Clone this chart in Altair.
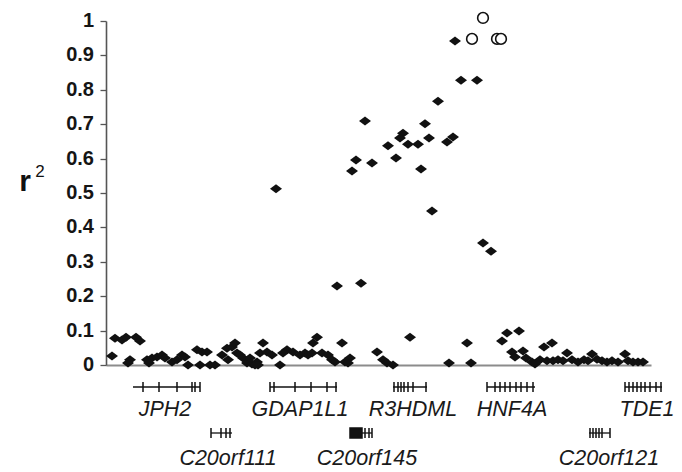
import altair as alt
import pandas as pd

# ---- data (position along region, arbitrary kb units; r^2 values) ----
filled_pos = [332, 259, 319, 297, 294, 323, 302, 312, 341, 347, 282, 250, 290, 266, 246, 315,
              170, 326, 231, 255, 349, 355, 371, 377, 385,
              6, 9, 16, 20, 30, 34, 24, 22, 41, 46, 43, 51, 56, 59, 66, 71, 76, 79, 82, 91, 96,
              101, 94, 104, 109, 116, 121, 126, 129, 122, 131, 134, 137, 141, 146, 151, 144, 149,
              152, 157, 154, 161, 166, 174, 181, 177, 187, 194, 199, 202, 206, 211, 207, 216, 222,
              226, 229, 236, 239, 244, 242, 271, 277, 281, 287, 304, 343, 361, 365, 396, 401, 413,
              406, 409, 417, 420, 426, 429, 434, 441, 447, 452, 438, 446,
              457, 461, 466, 472, 478, 482, 486, 491, 496, 501, 506, 512, 519, 522, 527, 532, 537]
filled_r2 = [0.767, 0.709, 0.701, 0.674, 0.660, 0.660, 0.642, 0.642, 0.648, 0.663, 0.637, 0.596,
             0.602, 0.587, 0.564, 0.570, 0.512, 0.448, 0.230, 0.238, 0.942, 0.828, 0.828, 0.355, 0.331,
             0.026, 0.078, 0.073, 0.081, 0.081, 0.070, 0.015, 0.006, 0.015, 0.020, 0.006, 0.023,
             0.029, 0.020, 0.009, 0.015, 0.029, 0.023, 0.0, 0.044, 0.038, 0.038, 0.0, 0.0, 0.0,
             0.029, 0.049, 0.052, 0.064, 0.015, 0.035, 0.029, 0.020, 0.006, 0.003, 0.009, 0.020,
             0.0, 0.0, 0.064, 0.035, 0.038, 0.029, 0.0, 0.044, 0.035, 0.038, 0.029, 0.035, 0.029,
             0.035, 0.081, 0.064, 0.035, 0.029, 0.015, 0.009, 0.064, 0.009, 0.020, 0.006, 0.038,
             0.015, 0.006, 0.0, 0.081, 0.006, 0.064, 0.006, 0.070, 0.093, 0.099, 0.038, 0.023,
             0.041, 0.020, 0.009, 0.003, 0.015, 0.012, 0.012, 0.015, 0.052, 0.064,
             0.012, 0.035, 0.015, 0.009, 0.015, 0.012, 0.032, 0.017, 0.012, 0.009, 0.012, 0.009,
             0.032, 0.012, 0.009, 0.009, 0.009]

open_pos = [377, 366, 391, 395]
open_r2 = [1.009, 0.948, 0.948, 0.948]

y_ticks = [0, 0.1, 0.2, 0.3, 0.4, 0.5, 0.6, 0.7, 0.8, 0.9, 1]
y_tick_labels = ["0", "0.1", "0.2", "0.3", "0.4", "0.5", "0.6", "0.7", "0.8", "0.9", "1"]

# genes: name, start, end, row, label position
gene_names = ["JPH2", "GDAP1L1", "R3HDML", "HNF4A", "TDE1", "C20orf111", "C20orf145", "C20orf121"]
gene_start = [27, 164, 287, 381, 519, 105, 244, 483]
gene_end = [94, 231, 321, 429, 556, 126, 266, 504]
gene_row = [1, 1, 1, 1, 1, 2, 2, 2]
gene_label = [59, 194, 307, 406, 541, 122, 261, 503]

exon_gene = (["JPH2"] * 6 + ["GDAP1L1"] * 6 + ["R3HDML"] * 7 + ["HNF4A"] * 9 + ["TDE1"] * 9
             + ["C20orf111"] * 4 + ["C20orf145"] * 4 + ["C20orf121"] * 6)
exon_start = [37, 53, 71, 86, 89, 94,
              164, 168, 189, 205, 221, 230,
              288, 292, 295, 298, 302, 307, 320,
              381, 389, 394, 399, 404, 410, 415, 421, 427,
              519, 523, 527, 531, 535, 539, 544, 550, 555,
              105, 115, 120, 124,
              244, 259, 263, 266,
              484, 487, 490, 493, 496, 504]
exon_end = [37, 53, 71, 86, 89, 94,
            164, 168, 189, 205, 221, 230,
            288, 292, 295, 298, 302, 307, 320,
            381, 389, 394, 399, 404, 410, 415, 421, 427,
            519, 523, 527, 531, 535, 539, 544, 550, 555,
            105, 115, 120, 124,
            256, 259, 263, 266,
            484, 487, 490, 493, 496, 504]

# ---- tables ----
df_f = pd.DataFrame({"pos": filled_pos, "r2": filled_r2})
df_o = pd.DataFrame({"pos": open_pos, "r2": open_r2})
df_t = pd.DataFrame({"v": y_ticks, "lab": y_tick_labels})
df_g = pd.DataFrame({"gene": gene_names, "start": gene_start, "end": gene_end,
                     "row": gene_row, "label": gene_label})
row_of = dict(zip(gene_names, gene_row))
df_e = pd.DataFrame({"gene": exon_gene, "start": exon_start, "end": exon_end})
df_e["row"] = df_e["gene"].map(row_of)

W, H = 545, 344
xscale = alt.Scale(domain=[0, W], nice=False, zero=False)
yscale = alt.Scale(domain=[0, 1], nice=False)

INK = "#111111"

x_axis = alt.Axis(title=None, labels=False, ticks=False, grid=False,
                  domainColor="#8c8c8c", domainWidth=1.8)
y_axis = alt.Axis(title=None, values=y_ticks, labels=False, grid=False,
                  tickSize=6, tickColor="#555555", tickWidth=1.3,
                  domainColor="#555555", domainWidth=1.6)

filled = alt.Chart(df_f).mark_point(
    shape="M-1.2,0L0,-0.9L1.2,0L0,0.9Z", filled=True, color=INK, size=100, opacity=1
).encode(
    x=alt.X("pos:Q", scale=xscale, axis=x_axis),
    y=alt.Y("r2:Q", scale=yscale, axis=y_axis),
)

opened = alt.Chart(df_o).mark_point(
    shape="circle", filled=False, color=INK, strokeWidth=1.6, size=115, opacity=1, fill="white"
).encode(x=alt.X("pos:Q", scale=xscale, axis=x_axis),
         y=alt.Y("r2:Q", scale=yscale, axis=y_axis))

tick_labels = alt.Chart(df_t).mark_text(
    font="Liberation Sans", fontWeight="bold", fontSize=20, color="#151515",
    align="right", baseline="middle").encode(
    x=alt.value(-12), y=alt.Y("v:Q", scale=yscale, axis=y_axis), text="lab:N")


def gene_row_layers(row, y_line, y_label):
    g = alt.Chart(df_g).transform_filter(alt.datum.row == row)
    e = alt.Chart(df_e).transform_filter(alt.datum.row == row)
    line = g.mark_rule(color=INK, strokeWidth=1.3).encode(
        x=alt.X("start:Q", scale=xscale, axis=x_axis), x2="end:Q", y=alt.value(y_line))
    ex = e.mark_rect(color=INK, stroke=INK, strokeWidth=1.5).encode(
        x=alt.X("start:Q", scale=xscale, axis=x_axis), x2="end:Q",
        y=alt.value(y_line - 5), y2=alt.value(y_line + 5))
    lab = g.mark_text(font="Liberation Sans", fontStyle="italic", fontSize=21.5,
                      color="#1a1a1a", baseline="middle", align="center").encode(
        x=alt.X("label:Q", scale=xscale, axis=x_axis), y=alt.value(y_label), text="gene:N")
    return [line, ex, lab]


title_r = alt.Chart(pd.DataFrame({"t": ["r"]})).mark_text(
    font="Liberation Sans", fontWeight="bold", fontSize=30, color=INK,
    align="center", baseline="alphabetic").encode(
    x=alt.value(-81), y=alt.value(170), text="t:N")
title_2 = alt.Chart(pd.DataFrame({"t": ["2"]})).mark_text(
    font="Liberation Sans", fontSize=17, color=INK,
    align="center", baseline="alphabetic").encode(
    x=alt.value(-66), y=alt.value(156), text="t:N")

layers = ([filled, opened, tick_labels] + gene_row_layers(1, 366, 389)
          + gene_row_layers(2, 412, 438) + [title_r, title_2])

chart = alt.layer(*layers).properties(
    width=W, height=H,
    autosize=alt.AutoSizeParams(type="none"),
    padding={"left": 98, "top": 13, "right": 23, "bottom": 107},
    background="white",
).configure_view(stroke=None)

chart.save("out.html", embed_options={"renderer": "svg", "actions": False})
